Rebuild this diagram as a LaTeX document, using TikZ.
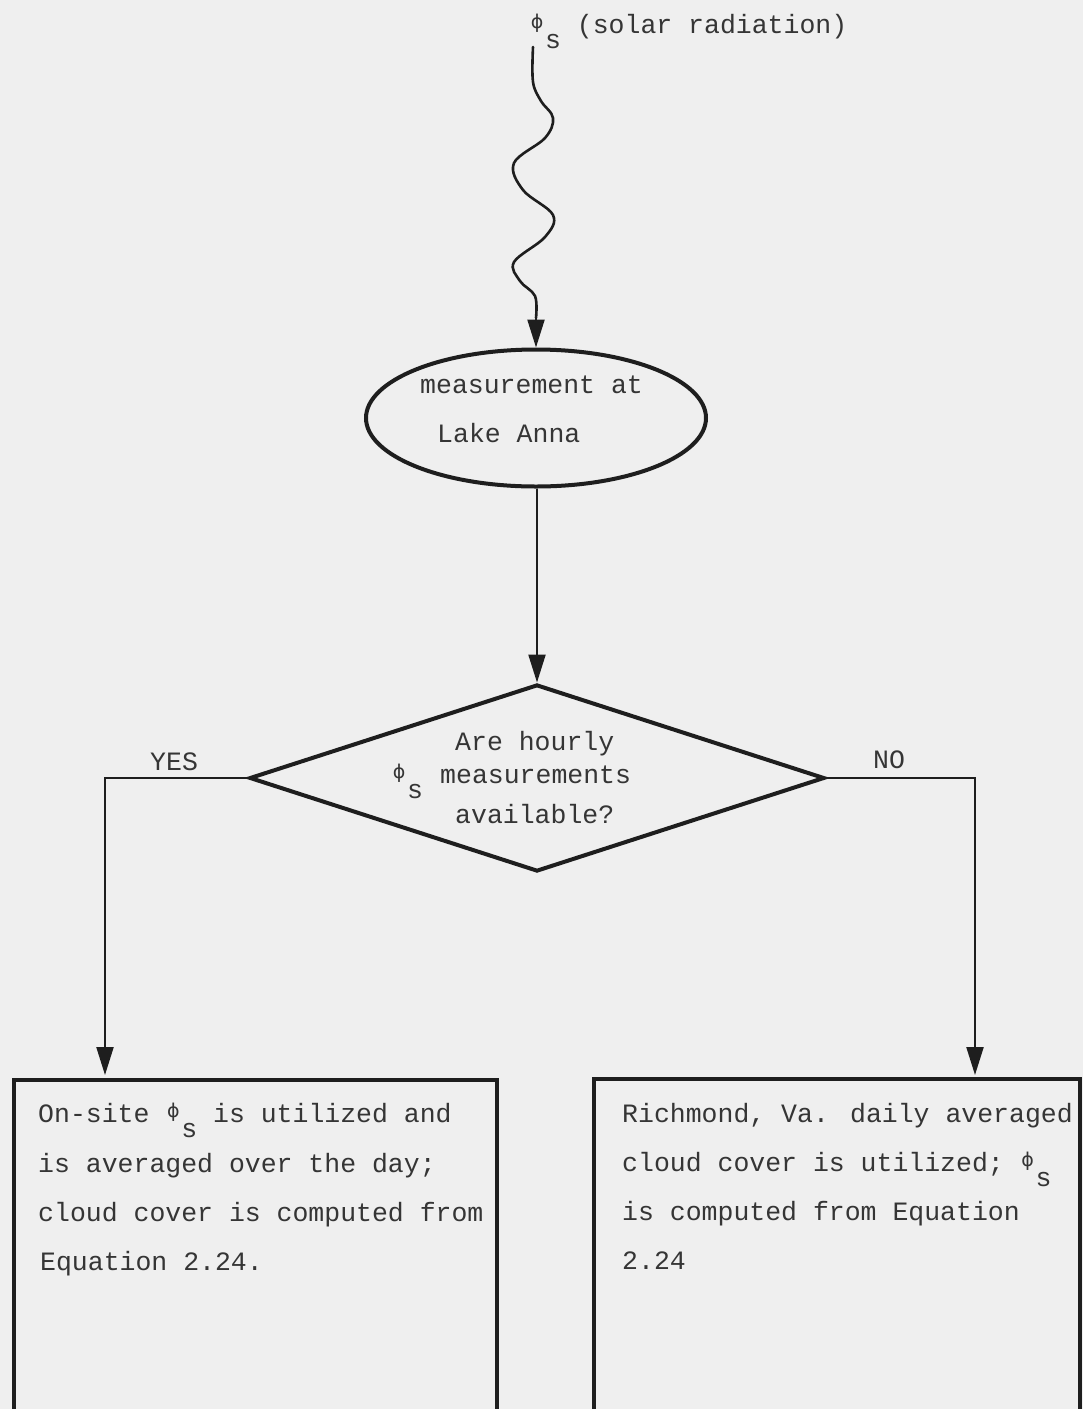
\documentclass[tikz,border=0pt]{standalone}
\usepackage{fontspec}
\newfontfamily\tw{Liberation Mono}
\newfontfamily\dv{DejaVu Sans}
\usetikzlibrary{shapes.geometric,arrows.meta}
\definecolor{bg}{HTML}{EFEFEF}
\definecolor{ink}{HTML}{1E1E1E}
\definecolor{txtc}{HTML}{353535}
\newcommand\phis{\makebox[0.6em][c]{\raisebox{4.5pt}{\dv\fontsize{19}{19}\selectfont ϕ}}\raisebox{-15pt}{s}}
\begin{document}
\begin{tikzpicture}[x=1pt,y=1pt,
  txt/.style={font=\tw\fontsize{26.5}{30}\selectfont, text=txtc, inner sep=0pt, anchor=base west},
  arr/.style={draw=ink, line width=2.2pt, -{Triangle[length=28pt,width=17pt]}},
  shapeline/.style={draw=ink, line width=4pt, inner sep=0pt},
  wave/.style={draw=ink, line width=2.6pt, line cap=round}]
\fill[bg] (0,0) rectangle (1083,-1409);
\useasboundingbox (0,0) rectangle (1083,-1409);

% top label
\node[txt] (src) at (529,-33) {\phis{} (solar radiation)};

% wavy radiation line
\coordinate (wstart) at (533,-47);
\coordinate (wend) at (536,-318);
\draw[wave] plot[smooth, tension=0.6] coordinates {(533,-47) (533,-82) (541,-101) (553,-118) (545,-138) (514,-163) (523,-190) (553,-215) (545,-237) (514,-262) (520,-281) (535,-296) (536,-318)};

% ellipse
\node[shapeline, ellipse, minimum width=340pt, minimum height=137pt] (meas) at (536,-418) {};
\node[txt] (m1) at (420,-393) {measurement at};
\node[txt] (m2) at (437,-442) {Lake Anna};
\draw[arr] (wend) -- (meas.north);

% diamond
\node[shapeline, diamond, minimum width=575pt, minimum height=187pt] (dec) at (537,-778) {};
\node[txt] (d1) at (455,-750) {Are hourly};
\node[txt] (d2) at (440,-783) {measurements};
\node[txt] (dphi) at (391,-783) {\phis};
\node[txt] (d3) at (455,-823) {available?};
\draw[arr] (meas.south -| dec.north) -- (dec.north);

% boxes
\node[shapeline, rectangle, minimum width=483pt, minimum height=360pt, anchor=north west] (lbox) at (12,-1078) {};
\node[shapeline, rectangle, minimum width=486pt, minimum height=360pt, anchor=north west] (rbox) at (592,-1077) {};

% branches
\coordinate (yesin) at (105,-1075);
\coordinate (noin) at (975,-1075);
\draw[arr] (dec.west) -| (yesin);
\draw[arr] (dec.east) -| (noin);
\node[txt] (yes) at (150,-770) {YES};
\node[txt] (no) at (873,-768) {NO};

% left box text
\node[txt] (l1) at (38,-1122) {On-site \phis{} is utilized and};
\node[txt] (l2) at (38,-1172) {is averaged over the day;};
\node[txt] (l3) at (38,-1221) {cloud cover is computed from};
\node[txt] (l4) at (40,-1270) {Equation 2.24.};

% right box text
\node[txt] (r1) at (622,-1122) {Richmond, Va. daily averaged};
\node[txt] (r2) at (622,-1171) {cloud cover is utilized; \phis};
\node[txt] (r3) at (622,-1220) {is computed from Equation};
\node[txt] (r4) at (622,-1269) {2.24};
\end{tikzpicture}
\end{document}
